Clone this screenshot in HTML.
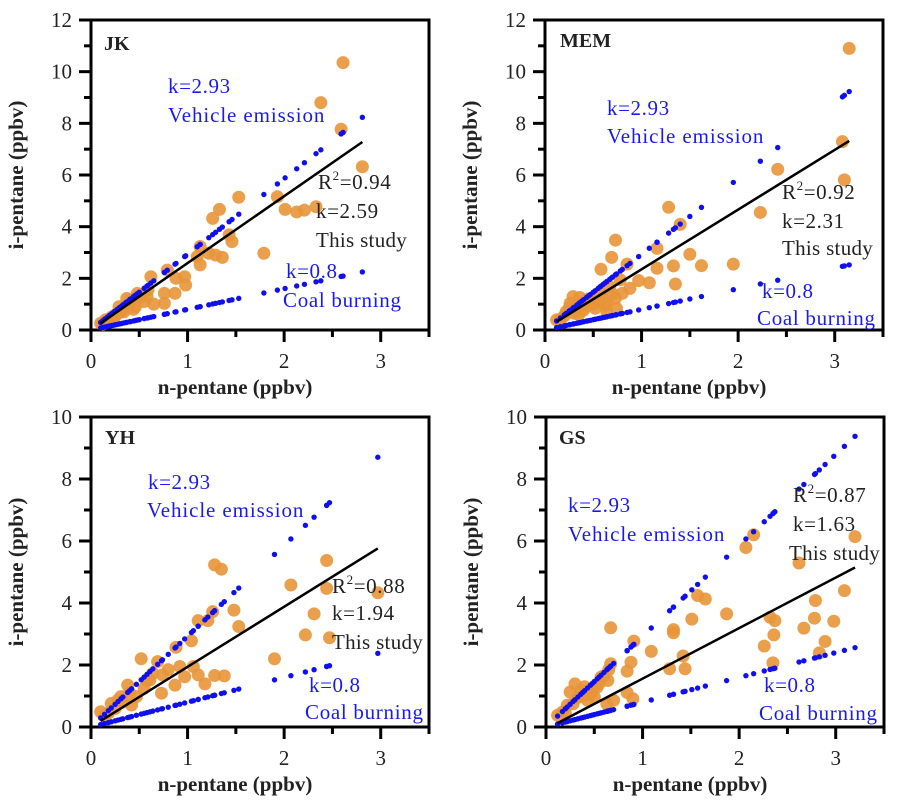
<!DOCTYPE html>
<html><head><meta charset="utf-8"><style>
html,body{margin:0;padding:0;background:#fff;}
svg{display:block;font-family:"Liberation Serif",serif;}
</style></head><body>
<svg id="chart" width="898" height="811" viewBox="0 0 898 811" xmlns="http://www.w3.org/2000/svg"></svg>
<script>
// ---- data ----
const jkX = [2.61,2.38,2.59,2.81,1.53,1.33,1.26,1.93,2.01,2.13,2.21,2.33,1.79,1.43,1.46,1.36,1.29,1.22,1.13,1.10,1.13,0.97,0.98,0.88,0.87,0.76,0.76,0.65,0.62,0.59,0.55,0.79,0.48,0.41,0.36,0.30,0.25,0.20,0.15,0.10,0.37,0.46,0.29,0.22,0.17,0.32,0.40,0.50,0.27,0.19,0.14,0.58,0.44,0.34,0.24,0.12];
const jkY = [10.35,8.8,7.77,6.32,5.14,4.67,4.32,5.16,4.67,4.57,4.64,4.77,2.97,3.68,3.42,2.81,2.9,2.97,3.23,2.84,2.52,2.06,1.74,2.0,1.42,1.42,1.03,1.0,2.06,1.55,1.10,2.32,1.42,1.16,0.9,0.71,0.58,0.45,0.39,0.26,1.22,0.9,0.9,0.52,0.32,0.75,0.95,1.25,0.62,0.42,0.30,1.30,0.80,0.70,0.48,0.22];
const memX = [3.15,3.08,3.10,2.41,2.23,1.28,1.40,0.73,0.69,0.58,0.85,1.16,1.16,1.33,1.50,1.62,1.95,1.35,1.08,0.97,0.88,0.80,0.73,0.64,0.55,0.47,0.36,0.29,0.26,0.33,0.43,0.52,0.64,0.74,0.22,0.16,0.12,0.40,0.57,0.67,0.78,0.20,0.30,0.38,0.45,0.60,0.70,0.50,0.25,0.35,0.62];
const memY = [10.9,7.29,5.81,6.22,4.55,4.75,4.09,3.48,2.81,2.35,2.55,3.16,2.39,2.48,2.93,2.49,2.55,1.78,1.83,1.91,1.61,1.42,1.23,1.03,1.10,1.16,1.26,1.29,1.03,0.84,0.93,0.84,0.71,0.84,0.71,0.41,0.39,0.77,1.42,1.68,1.94,0.55,0.65,1.05,1.20,1.25,1.40,1.00,0.85,0.60,0.95];
const yhX = [1.28,1.35,2.44,2.07,2.44,2.97,2.31,2.22,2.47,1.90,1.48,1.53,1.26,1.21,1.11,1.04,0.88,0.52,0.69,0.92,0.97,1.06,1.11,1.18,1.28,1.38,0.87,0.73,0.74,0.61,0.55,0.38,0.31,0.28,0.42,0.21,0.10,0.47,0.64,0.25,0.33,0.18,0.14,0.40,0.58,0.80];
const yhY = [5.23,5.09,5.37,4.58,4.47,4.33,3.65,2.97,2.88,2.20,3.77,3.24,3.72,3.43,3.43,2.78,2.57,2.20,2.11,1.95,1.62,1.95,1.68,1.39,1.66,1.65,1.35,1.09,1.68,1.52,1.25,1.35,0.98,0.87,0.71,0.76,0.49,0.98,1.73,0.60,0.80,0.45,0.35,1.10,1.50,1.85];
const gsX = [3.20,2.15,2.07,2.62,3.09,2.79,2.78,2.98,2.67,2.89,2.83,2.37,2.32,2.36,2.26,2.35,1.57,1.65,1.87,1.51,1.32,1.32,1.42,1.28,1.44,1.09,0.91,0.88,0.84,0.90,0.84,0.67,0.67,0.64,0.63,0.53,0.46,0.36,0.30,0.25,0.43,0.22,0.17,0.12,0.57,0.50,0.70,0.20,0.28,0.33,0.40,0.48,0.55,0.60,0.65,0.38];
const gsY = [6.14,6.20,5.79,5.29,4.40,4.08,3.51,3.41,3.19,2.76,2.39,3.43,3.54,2.97,2.61,2.07,4.24,4.13,3.65,3.48,3.14,3.04,2.29,1.88,1.88,2.44,2.77,2.09,1.80,0.91,1.11,3.20,2.04,1.50,0.75,1.29,1.07,1.18,1.39,1.13,0.86,0.70,0.48,0.38,1.61,0.97,0.86,0.45,0.75,0.95,1.30,1.20,1.40,1.65,1.85,1.00];
const panelNames = ["JK","MEM","YH","GS"];
const fitSlopes = [2.59,2.31,1.94,1.63];
const fitIntercepts = [0.0,0.04,0.0,-0.07];
const fitR2 = ["0.94","0.92","0.88","0.87"];
const yMaxes = [12,12,10,10];
const yTickLabels12 = [0,2,4,6,8,10,12];
const yTickLabels10 = [0,2,4,6,8,10];
const xTickLabels = [0,1,2,3];
const vehicleK = 2.93;
const coalK = 0.8;

const NS="http://www.w3.org/2000/svg";
const svg=document.getElementById('chart');
function mk(tag,attrs,parent){const e=document.createElementNS(NS,tag);for(const k in attrs)e.setAttribute(k,attrs[k]);(parent||svg).appendChild(e);return e;}

const layouts=[
 {L:91,T:20,W:338,H:310, xs:jkX, ys:jkY, lab:{name:[13,30],k1:[77,73],veh:[77,102],r2:[227,169],k:[225,198],study:[225,227],k2:[195,258],coal:[192,287]}},
 {L:545,T:20,W:338,H:310, xs:memX, ys:memY, lab:{name:[15,27],k1:[62,95],veh:[62,123],r2:[237,179],k:[237,208],study:[237,235],k2:[217,278],coal:[212,305]}},
 {L:91,T:417,W:338,H:310, xs:yhX, ys:yhY, lab:{name:[14,27],k1:[57,72],veh:[56,100],r2:[241,176],k:[241,203],study:[241,232],k2:[218,275],coal:[214,302]}},
 {L:546,T:417,W:338,H:310, xs:gsX, ys:gsY, lab:{name:[13,27],k1:[22,95],veh:[22,124],r2:[247,85],k:[247,114],study:[243,143],k2:[218,275],coal:[213,303]}}
];

layouts.forEach((p,i)=>{
  const yMax=yMaxes[i];
  const sx=v=>p.L+v/3.5*p.W;
  const sy=v=>p.T+p.H-v/yMax*p.H;
  const g=mk('g',{});
  
  
  const fr=mk('rect',{x:p.L,y:p.T,width:p.W,height:p.H,fill:'none',stroke:'#000','stroke-width':3},g);
  
  
  const yt = yMax===12?yTickLabels12:yTickLabels10;
  yt.forEach(v=>{
    mk('line',{x1:p.L-12,x2:p.L,y1:sy(v),y2:sy(v),stroke:'#000','stroke-width':3},g);
    if(v<yMax) mk('line',{x1:p.L-7,x2:p.L,y1:sy(v+1),y2:sy(v+1),stroke:'#000','stroke-width':3},g);
    const t=mk('text',{x:p.L-19,y:sy(v)+7,'text-anchor':'end','font-size':21,fill:'#222'},g);
    t.textContent=v;
    
    
  });
  xTickLabels.forEach(v=>{
    mk('line',{x1:sx(v),x2:sx(v),y1:p.T+p.H,y2:p.T+p.H+12,stroke:'#000','stroke-width':3},g);
    mk('line',{x1:sx(v+0.5),x2:sx(v+0.5),y1:p.T+p.H,y2:p.T+p.H+7,stroke:'#000','stroke-width':3},g);
    const t=mk('text',{x:sx(v),y:p.T+p.H+38,'text-anchor':'middle','font-size':21,fill:'#222'},g);
    t.textContent=v;
    
    
  });
  const xt=mk('text',{x:p.L+p.W/2-25,y:p.T+p.H+64,'text-anchor':'middle','font-size':21,'font-weight':'bold',fill:'#222'},g);
  xt.textContent='n-pentane (ppbv)';
  
  
  const yx=p.L-68, yy=p.T+p.H/2;
  const ytt=mk('text',{x:yx,y:yy,'text-anchor':'middle','font-size':21,'font-weight':'bold',fill:'#222',transform:`rotate(-90 ${yx} ${yy})`},g);
  ytt.textContent='i-pentane (ppbv)';
  
  
  p.xs.forEach((x,j)=>{
    const c=mk('circle',{cx:sx(x),cy:sy(p.ys[j]),r:6.5,fill:'#e8953a','fill-opacity':0.9},g);
    
    
  });
  p.xs.forEach(x=>{
    if(vehicleK*x<=yMax){
      const a=mk('circle',{cx:sx(x),cy:sy(vehicleK*x),r:2.7,fill:'#1010ee'},g);
      
      
    }
    const b=mk('circle',{cx:sx(x),cy:sy(coalK*x),r:2.7,fill:'#1010ee'},g);
    
    
  });
  const x0=Math.min(...p.xs), x1=Math.max(...p.xs);
  const fl=mk('line',{x1:sx(x0),y1:sy(fitSlopes[i]*x0+fitIntercepts[i]),x2:sx(x1),y2:sy(fitSlopes[i]*x1+fitIntercepts[i]),stroke:'#000','stroke-width':2.5},g);
  
  
  const L=p.lab;
  function lbl(pos,txt,col,name,extra){
    const t=mk('text',Object.assign({x:p.L+pos[0],y:p.T+pos[1],'font-size':21,fill:col},extra||{}),g);
    t.textContent=txt;
    
    
    return t;
  }
  lbl(L.name,panelNames[i],'#222','panel-title',{'font-weight':'bold','font-size':20});
  lbl(L.k1,'k=2.93','#1a1aee','vehicle-slope-label',{'letter-spacing':'0.6'});
  lbl(L.veh,'Vehicle emission','#1a1aee','vehicle-emission-label',{'letter-spacing':'0.9'});
  const r=lbl(L.r2,'','#222','r-squared-label',{'letter-spacing':'0.6'});
  const t1=document.createElementNS(NS,'tspan');t1.textContent='R';r.appendChild(t1);
  const t2=mk('tspan',{'font-size':13,dy:-9},r);t2.textContent='2';
  const t3=mk('tspan',{dy:9},r);t3.textContent='=' + fitR2[i];
  lbl(L.k,'k='+fitSlopes[i].toFixed(2),'#222','fit-slope-label',{'letter-spacing':'0.6'});
  lbl(L.study,'This study','#222','this-study-label',{'letter-spacing':'0.3'});
  lbl(L.k2,'k=0.8','#1a1aee','coal-slope-label',{'letter-spacing':'0.6'});
  lbl(L.coal,'Coal burning','#1a1aee','coal-burning-label',{'letter-spacing':'0.7'});
});
</script>
</body></html>
